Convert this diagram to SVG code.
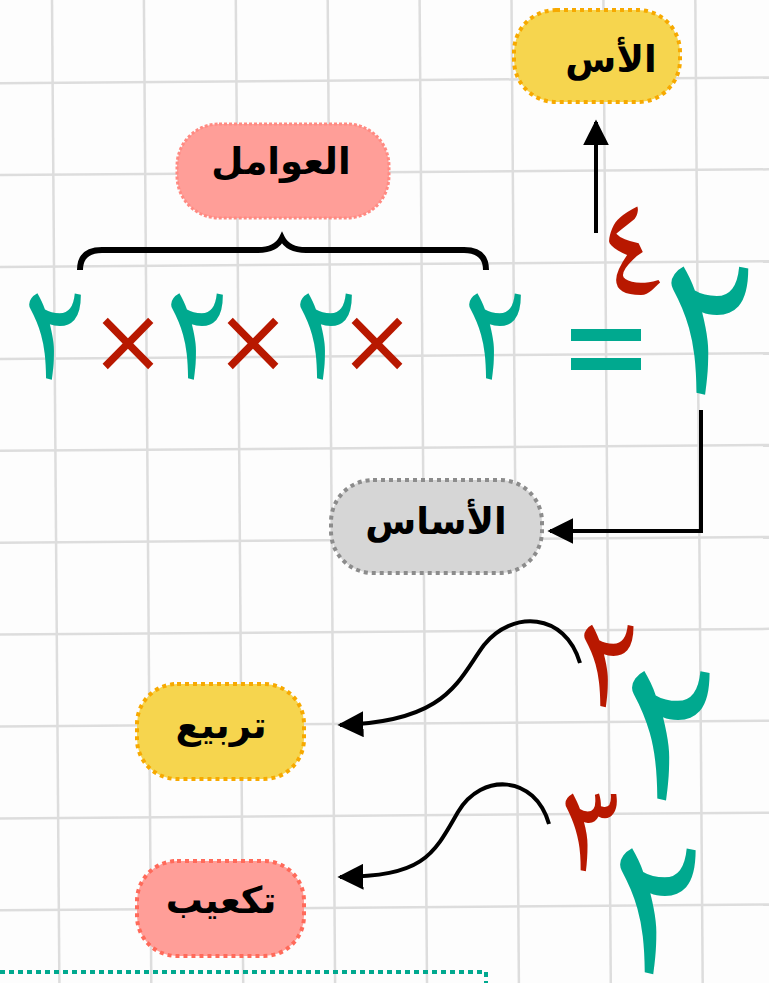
<svg xmlns="http://www.w3.org/2000/svg" width="769" height="983" viewBox="0 0 769 983">
  <defs>
    <style>
      .grid line { stroke: #dddddd; stroke-width: 2.5; }
      .lbl { font-family: "DejaVu Sans", sans-serif; font-weight: bold; font-size: 37px; fill: #000; text-anchor: middle; }
      .dig { font-family: "Noto Naskh Arabic", "Amiri", "Scheherazade New", "DejaVu Sans", sans-serif; text-anchor: middle; }
      .mul { font-family: "DejaVu Sans", sans-serif; text-anchor: middle; }
      .teal { fill: #00a98f; }
      .red { fill: #b81800; }
      .conn { fill: none; stroke: #000; stroke-width: 4; }
      .pill-y { fill: #f6d54e; stroke: #f7a900; stroke-width: 4; stroke-dasharray: 4 4; }
      .pill-p { fill: #ff9e98; stroke: #ff8a82; stroke-width: 3; stroke-dasharray: 3 2; }
      .pill-g { fill: #d6d6d6; stroke: #8c8c8c; stroke-width: 4; stroke-dasharray: 4 4; }
      .pill-r { fill: #ff9e98; stroke: #ff6a5a; stroke-width: 4; stroke-dasharray: 4 4; }
    </style>
    <marker id="head" viewBox="0 0 10 10" refX="9" refY="5" markerWidth="6.5" markerHeight="6.5" markerUnits="strokeWidth" orient="auto">
      <path d="M0,0 L10,5 L0,10 z" fill="#000"/>
    </marker>
  </defs>

  <rect width="769" height="983" fill="#fdfdfd"/>

  <!-- squared paper background, slightly rotated -->
  <g class="grid" transform="rotate(-0.43)">
    <line x1="-39.9" y1="-30" x2="-39.9" y2="1020"/>
    <line x1="52" y1="-30" x2="52" y2="1020"/>
    <line x1="143.9" y1="-30" x2="143.9" y2="1020"/>
    <line x1="235.8" y1="-30" x2="235.8" y2="1020"/>
    <line x1="327.7" y1="-30" x2="327.7" y2="1020"/>
    <line x1="419.6" y1="-30" x2="419.6" y2="1020"/>
    <line x1="511.5" y1="-30" x2="511.5" y2="1020"/>
    <line x1="603.4" y1="-30" x2="603.4" y2="1020"/>
    <line x1="695.3" y1="-30" x2="695.3" y2="1020"/>
    <line x1="787.2" y1="-30" x2="787.2" y2="1020"/>
    <line x1="-30" y1="83.2" x2="800" y2="83.2"/>
    <line x1="-30" y1="175.1" x2="800" y2="175.1"/>
    <line x1="-30" y1="267" x2="800" y2="267"/>
    <line x1="-30" y1="358.9" x2="800" y2="358.9"/>
    <line x1="-30" y1="450.8" x2="800" y2="450.8"/>
    <line x1="-30" y1="542.7" x2="800" y2="542.7"/>
    <line x1="-30" y1="634.6" x2="800" y2="634.6"/>
    <line x1="-30" y1="726.5" x2="800" y2="726.5"/>
    <line x1="-30" y1="818.4" x2="800" y2="818.4"/>
    <line x1="-30" y1="910.3" x2="800" y2="910.3"/>
    <line x1="-30" y1="1002.2" x2="800" y2="1002.2"/>
  </g>

  <!-- connectors -->
  <g id="connectors">
    <line class="conn" x1="596" y1="233" x2="596" y2="122" marker-end="url(#head)"/>
    <polyline class="conn" points="701,410 701,531 550,531" marker-end="url(#head)"/>
    <path class="conn" d="M580,663 C565,612 512,610 484,645 C458,680 448,722 340,725" marker-end="url(#head)"/>
    <path class="conn" d="M549,824 C535,775 482,772 458,812 C432,858 422,876 340,877" marker-end="url(#head)"/>
    <path id="brace" fill="none" stroke="#000" stroke-width="6" d="M80,270 Q80,250 102,250 L258,250 Q276,250 282,238 Q288,250 306,250 L464,250 Q486,250 486,270"/>
  </g>

  <!-- exponent label -->
  <g id="node-exponent">
    <rect class="pill-y" x="514" y="10" width="166" height="92" rx="42"/>
    <text class="lbl" x="611" y="72">الأس</text>
  </g>

  <!-- factors label -->
  <g id="node-factors">
    <rect class="pill-p" x="177" y="124" width="212" height="94" rx="42"/>
    <text class="lbl" x="281" y="174">العوامل</text>
  </g>

  <!-- base label -->
  <g id="node-base">
    <rect class="pill-g" x="331" y="480" width="211" height="93" rx="42"/>
    <text class="lbl" x="436" y="534">الأساس</text>
  </g>

  <!-- square label -->
  <g id="node-square">
    <rect class="pill-y" x="137" y="684" width="167" height="95" rx="40"/>
    <text class="lbl" x="221" y="738">تربيع</text>
  </g>

  <!-- cube label -->
  <g id="node-cube">
    <rect class="pill-r" x="137" y="861" width="167" height="95" rx="40"/>
    <text class="lbl" x="221" y="913">تكعيب</text>
  </g>

  <!-- power expression 2^4 = 2×2×2×2 -->
  <g id="expr-power">
    <text class="dig teal" x="707" y="395" font-size="226">٢</text>
    <text class="dig red" x="630" y="295" font-size="148">٤</text>
    <rect class="teal" x="571" y="329" width="70" height="12"/>
    <rect class="teal" x="571" y="358" width="70" height="12"/>
    <text class="dig teal" x="493" y="380" font-size="152">٢</text>
    <text class="mul red" x="377" y="372" font-size="90">×</text>
    <text class="dig teal" x="324" y="380" font-size="152">٢</text>
    <text class="mul red" x="253" y="372" font-size="90">×</text>
    <text class="dig teal" x="195" y="380" font-size="152">٢</text>
    <text class="mul red" x="128" y="372" font-size="90">×</text>
    <text class="dig teal" x="53" y="380" font-size="152">٢</text>
  </g>

  <!-- squared -->
  <g id="expr-square">
    <text class="dig teal" x="668" y="800" font-size="228">٢</text>
    <text class="dig red" x="607" y="707" font-size="145">٢</text>
  </g>

  <!-- cubed -->
  <g id="expr-cube">
    <text class="dig teal" x="655" y="974" font-size="222">٢</text>
    <text class="dig red" x="591" y="871" font-size="137">٣</text>
  </g>

  <!-- dotted frame edge -->
  <polyline fill="none" stroke="#00a98f" stroke-width="4" stroke-dasharray="5 4" points="0,972 486,972 486,990"/>
</svg>
